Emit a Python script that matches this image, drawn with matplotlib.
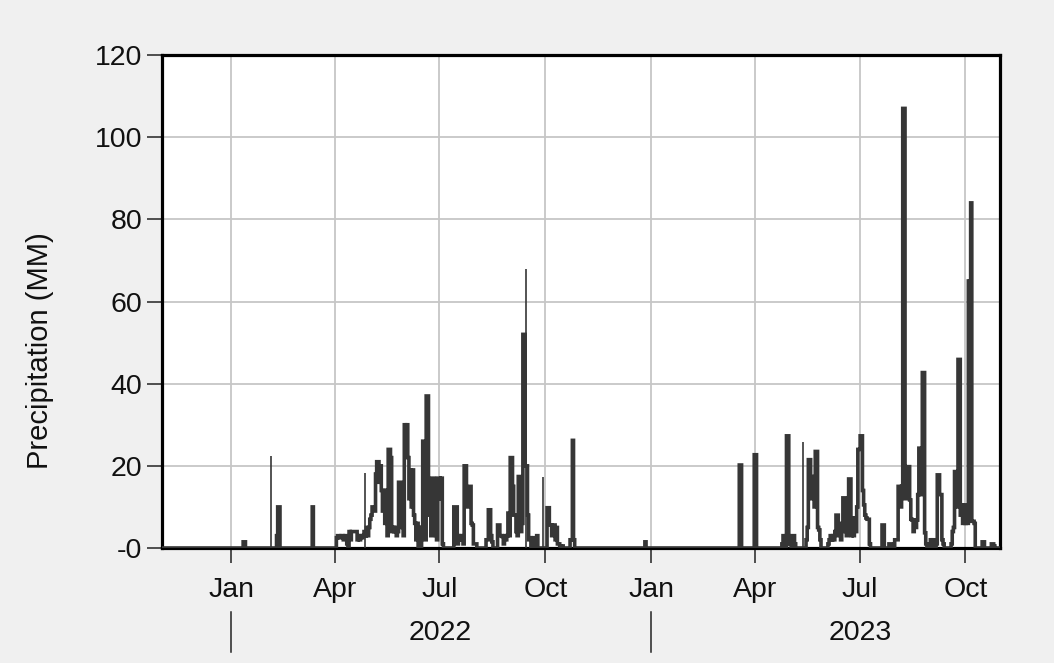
import numpy as np
import pandas as pd
import matplotlib
matplotlib.use("Agg")
import matplotlib.pyplot as plt
import matplotlib.dates as mdates
import matplotlib.transforms as mtransforms

# daily precipitation (mm), stored as runs of consecutive days
run_starts = [
    "2022-01-12", "2022-02-10", "2022-03-13", "2022-04-03", "2022-05-01",
    "2022-07-14", "2022-08-11", "2022-08-21", "2022-09-17", "2022-10-03",
    "2022-10-23", "2022-12-27",
    "2023-03-19", "2023-04-01", "2023-04-25", "2023-05-16", "2023-06-04",
    "2023-07-21", "2023-08-31", "2023-09-18",
]
run_values = [
    [1.5, 1.5],
    [3, 10, 10],
    [10],
    [2.5, 3, 3, 2.5, 3, 3, 2, 3, 2.5, 1, 0.5, 4, 2, 4, 4, 4, 4, 4, 2,
     3, 2, 3, 2.5, 3, 4, 3, 5, 3],
    [5, 7, 8, 10, 10, 9, 18, 21, 21, 16, 20, 14, 9, 14, 6, 14, 3,
     24, 24, 22, 4, 5, 4, 5, 3, 4, 16, 16, 6, 5, 3, 30, 26, 30, 22, 12,
     19, 10, 19, 8, 6, 2, 6, 0, 5, 0, 5, 26, 26, 2, 37, 37, 8.5,
     8, 3, 17, 17, 10, 3, 2, 17, 17, 12, 17, 1],
    [10, 10, 10, 1, 3, 2, 3, 2, 1, 20, 20, 12.5, 10, 15, 15, 6, 5.6, 1, 1, 1],
    [2, 2, 9.3, 9.3, 3, 1.5],
    [5.6, 5.6, 3, 3, 2.8, 1, 3, 2, 3, 8.5, 3, 22, 22, 15, 8, 8, 4, 3,
     17.4, 10, 4, 6, 52, 52, 20, 20, 8],
    [2, 2.5, 0, 2, 2.5, 0, 2, 3],
    [9.8, 9.8, 5.6, 5.6, 3, 5.6, 5.6, 2, 5, 1, 1, 0.5, 0, 0.5],
    [2, 2, 26.2, 2],
    [1.5],
    [20.2, 20.2],
    [22.7, 22.7],
    [1, 3, 0, 0, 27.3, 27.3, 1, 1, 0, 3, 3, 1],
    [2, 5, 21.5, 21.5, 12, 17.4, 17.4, 10, 23.5, 23.5, 5, 4.4, 2],
    [1, 2, 3, 2, 3, 2, 4, 8, 8, 3, 4, 2, 6, 12.2, 12.2, 4, 3, 5, 16.8, 16.8,
     3, 7.3, 3, 7.3, 4, 10, 24, 24, 27.3, 27.3, 14, 10.5, 8, 7.3, 7, 7, 1],
    [5.6, 5.6, 0, 0, 0, 0, 1, 1, 1, 0, 0, 2, 2, 2, 15, 15, 10, 15, 107, 107,
     12, 19.8, 19.8, 19.8, 11.7, 7, 6.8, 4, 6.8, 5, 6.8, 13, 24.3, 24.3, 13,
     42.7, 42.7, 3.7, 1],
    [0, 2, 0, 2, 0, 0, 1, 17.8, 17.8, 13, 13, 2, 1],
    [0, 1, 4, 5, 18.6, 18.6, 10, 45.9, 45.9, 8, 10.5, 6, 10.5, 6, 8, 6,
     65, 65, 84, 6.5, 6.5, 6, 0, 0, 0, 0, 0, 0, 1.5, 1.5, 0, 0, 0, 0, 0, 0,
     1, 1, 0.5],
]

# single-day readings drawn as thin spikes
spike_dates = ["2022-02-05", "2022-04-27", "2022-09-14", "2022-09-29", "2023-05-13"]
spike_values = [22.5, 18.3, 68, 17.4, 25.8]

yticks = [0, 20, 40, 60, 80, 100, 120]
ytick_labels = ["-0", "20", "40", "60", "80", "100", "120"]
years = ["2022", "2023"]

days = pd.date_range("2021-10-25", "2023-11-10", freq="D")
rain = pd.Series(0.0, index=days)
for start, vals in zip(run_starts, run_values):
    idx = pd.date_range(start, periods=len(vals), freq="D")
    rain[idx] = vals

plt.rcParams['font.family'] = ['Liberation Sans', 'DejaVu Sans']

fig = plt.figure(figsize=(10.54, 6.63), dpi=100, facecolor='#f0f0f0')
ax = fig.add_axes([162 / 1054, 1 - 548 / 663, 838 / 1054, 493 / 663])
ax.set_facecolor('white')

ax.plot(days, rain.values, drawstyle='steps-mid', color='#363636', lw=2.6,
        solid_joinstyle='miter', zorder=3)
ax.vlines(pd.to_datetime(spike_dates), 0, spike_values, color='#363636',
          lw=1.2, zorder=3)

ax.set_xlim(pd.Timestamp("2021-11-02"), pd.Timestamp("2023-10-31"))
ax.set_ylim(0, 120)
ax.set_yticks(yticks)
ax.set_yticklabels(ytick_labels)

ax.xaxis.set_major_locator(mdates.MonthLocator(bymonth=[1, 4, 7, 10]))
ax.xaxis.set_major_formatter(mdates.DateFormatter('%b'))

ax.grid(True, color='#c6c6c6', lw=1.3)
ax.set_axisbelow(True)
for s in ax.spines.values():
    s.set_linewidth(2.3)
    s.set_color('black')
ax.tick_params(axis='both', direction='out', length=11, width=1.1,
               color='#222222', labelsize=20.5, labelcolor='#111111')
ax.tick_params(axis='x', pad=10)
ax.tick_params(axis='y', pad=3)

# year row under the month labels
trans = mtransforms.blended_transform_factory(ax.transData, ax.transAxes)
for y in years:
    ax.text(pd.Timestamp(y + "-07-02"), -0.172, y, transform=trans,
            ha='center', va='center', fontsize=20.5, color='#111111')
    ax.plot([pd.Timestamp(y + "-01-01")] * 2, [-0.13, -0.211], transform=trans,
            color='#222222', lw=1.1, clip_on=False)

fig.text(40 / 1054, 1 - 351 / 663, "Precipitation (MM)", rotation=90,
         ha='center', va='center', fontsize=21, color='#111111')

fig.savefig("out.png", dpi=100, facecolor=fig.get_facecolor())
